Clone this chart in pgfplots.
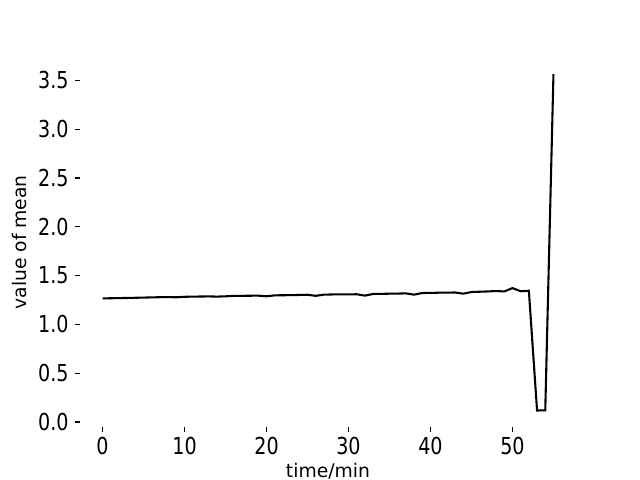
\documentclass[border=0pt]{standalone}
\usepackage{fontspec}
\setmainfont{DejaVu Sans}
\newfontfamily\tickfont[FakeStretch=0.82]{DejaVu Sans}
\usepackage{pgfplots}
\pgfplotsset{compat=1.18}
\begin{document}
\begin{tikzpicture}
\path[use as bounding box] (-57.6pt,-38.02pt) rectangle (403.2pt,307.58pt);
\begin{axis}[at={(0,0)}, anchor=south west, scale only axis,
  width=357.12pt, height=266.11pt,
  xmin=-2.75, xmax=57.75, ymin=-0.053, ymax=3.734,
  axis line style={draw=none},
  xtick={0,10,...,50}, ytick={0,0.5,...,3.5},
  xtick pos=bottom, ytick pos=left,
  tick align=outside, major tick length=3.5pt,
  tick style={line width=0.8pt, black},
  /pgf/number format/assume math mode=true,
  yticklabel style={/pgf/number format/fixed, /pgf/number format/fixed zerofill, /pgf/number format/precision=1, xshift=-4.5pt},
  ticklabel style={font=\tickfont\fontsize{16.8}{20}\selectfont, inner sep=0pt},
  xticklabel style={yshift=-3.5pt},
  label style={font=\fontsize{13.5}{16}\selectfont},
  xlabel={time/min}, ylabel={value of mean},
  xlabel style={yshift=-2.5pt},
  ylabel style={yshift=5pt},
]
\addplot[black, line width=1.5pt, mark=none] coordinates {
(0,1.267) (1,1.268) (2,1.270) (3,1.271) (4,1.273) (5,1.275) (6,1.277) (7,1.279)
(8,1.280) (9,1.278) (10,1.283) (11,1.285) (12,1.286) (13,1.287) (14,1.285) (15,1.288)
(16,1.292) (17,1.293) (18,1.294) (19,1.295) (20,1.288) (21,1.298) (22,1.299) (23,1.300)
(24,1.302) (25,1.304) (26,1.293) (27,1.305) (28,1.307) (29,1.308) (30,1.308) (31,1.309)
(32,1.295) (33,1.312) (34,1.313) (35,1.315) (36,1.316) (37,1.318) (38,1.305) (39,1.322)
(40,1.323) (41,1.325) (42,1.326) (43,1.327) (44,1.315) (45,1.332) (46,1.335) (47,1.338)
(48,1.342) (49,1.338) (50,1.372) (51,1.340) (52,1.345) (53,0.118) (54,0.120) (55,3.565)
};
\end{axis}
\end{tikzpicture}
\end{document}
